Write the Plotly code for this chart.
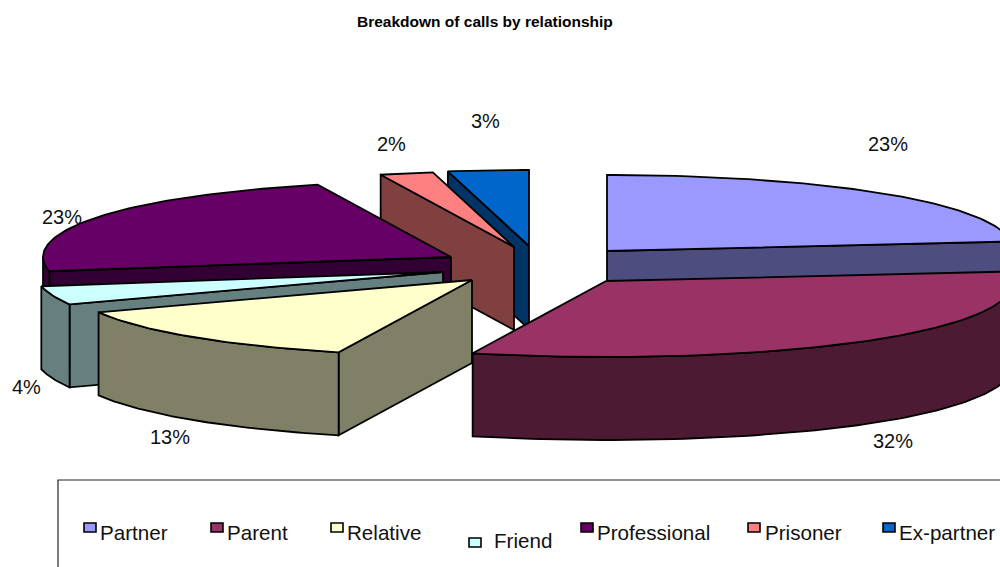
import math
import plotly.graph_objects as go

# --- data ---
categories = ["Partner", "Parent", "Relative", "Friend", "Professional", "Prisoner", "Ex-partner"]
values = [23, 32, 13, 4, 23, 2, 3]

# --- styles ---
top_colors = ["#9999FF", "#993366", "#FFFFCC", "#CCFFFF", "#660066", "#FF8080", "#0066CC"]
side_colors = ["#4D4D80", "#4D1A33", "#808066", "#668080", "#330033", "#804040", "#003366"]

# --- 3D projection layout (page pixels) ---
apex_x = [607, 606, 472, 443, 451, 514, 529]
apex_y = [251, 281, 280, 272, 257, 247, 246]
RX = 408
RX_FLATTEN = 26
RY = 76
DEPTH = 83
draw_order = [6, 5, 0, 4, 3, 2, 1]

label_x = [888, 893, 170, 26, 62, 391, 485]
label_y = [144, 441, 437, 387, 217, 144, 121]

swatch_x = [84, 211, 331, 469, 581, 748, 883]
swatch_y = [523, 523, 523, 538, 523, 523, 523]
legend_text_x = [100, 227, 347, 494, 597, 765, 899]
legend_text_y = [532, 532, 532, 540, 532, 532, 532]

FONT = "Liberation Sans, Arial, sans-serif"
LINE = dict(color="#000000", width=1.8)


def rim(i, deg):
    """Point on the top rim of slice i at a clockwise angle from 12 o'clock."""
    a = math.radians(deg)
    s, c = math.sin(a), math.cos(a)
    rx = RX + RX_FLATTEN * c * c
    return apex_x[i] + rx * s, apex_y[i] - RY * c


fig = go.Figure()


def poly(pts, color):
    fig.add_trace(go.Scatter(
        x=[p[0] for p in pts] + [pts[0][0]],
        y=[p[1] for p in pts] + [pts[0][1]],
        mode="lines", fill="toself", fillcolor=color, line=LINE,
        hoverinfo="skip", showlegend=False))


total = sum(values)
starts, acc = [], 0
for v in values:
    starts.append(acc / total * 360)
    acc += v

for i in draw_order:
    a0 = starts[i]
    a1 = a0 + values[i] / total * 360
    apex = (apex_x[i], apex_y[i])
    low = lambda p: (p[0], p[1] + DEPTH)

    # radial cut faces that look towards the viewer
    if 0 < a1 < 180:
        p = rim(i, a1)
        poly([apex, p, low(p), low(apex)], side_colors[i])
    if 180 < a0 < 360:
        p = rim(i, a0)
        poly([apex, p, low(p), low(apex)], side_colors[i])

    # outer curved wall (front half only)
    w0, w1 = max(a0, 90), min(a1, 270)
    if w1 > w0:
        arc = [rim(i, w0 + (w1 - w0) * k / 80) for k in range(81)]
        poly(arc + [low(p) for p in reversed(arc)], side_colors[i])

    # top face
    n = max(12, int(a1 - a0))
    top = [rim(i, a0 + (a1 - a0) * k / n) for k in range(n + 1)]
    poly([apex] + top, top_colors[i])

# legend box and swatches
shapes = [dict(type="rect", xref="x", yref="y", x0=58, x1=1020, y0=480, y1=590,
               line=dict(color="#222222", width=1.2), fillcolor="rgba(0,0,0,0)", layer="above")]
for i in range(len(categories)):
    shapes.append(dict(type="rect", xref="x", yref="y",
                       x0=swatch_x[i], x1=swatch_x[i] + 12,
                       y0=swatch_y[i], y1=swatch_y[i] + 9,
                       fillcolor=top_colors[i], line=dict(color="#000000", width=1.6)))

annotations = [dict(x=485, y=21, xref="x", yref="y", text="<b>Breakdown of calls by relationship</b>",
                    showarrow=False, font=dict(family=FONT, size=15.5, color="#000000"),
                    xanchor="center", yanchor="middle")]
for i, v in enumerate(values):
    annotations.append(dict(x=label_x[i], y=label_y[i], xref="x", yref="y", text=f"{v}%",
                            showarrow=False, font=dict(family=FONT, size=20, color="#111111"),
                            xanchor="center", yanchor="middle"))
    annotations.append(dict(x=legend_text_x[i], y=legend_text_y[i], xref="x", yref="y",
                            text=categories[i], showarrow=False,
                            font=dict(family=FONT, size=20.6, color="#111111"),
                            xanchor="left", yanchor="middle", xshift=-2))

fig.update_layout(
    width=1000, height=567, margin=dict(l=0, r=0, t=0, b=0),
    paper_bgcolor="#FFFFFF", plot_bgcolor="#FFFFFF", showlegend=False,
    xaxis=dict(range=[0, 1000], visible=False, fixedrange=True),
    yaxis=dict(range=[567, 0], visible=False, fixedrange=True),
    shapes=shapes, annotations=annotations)

fig.write_html("out.html", config={"displayModeBar": False},
               post_script="document.body.style.margin='0';document.body.style.overflow='hidden';")
